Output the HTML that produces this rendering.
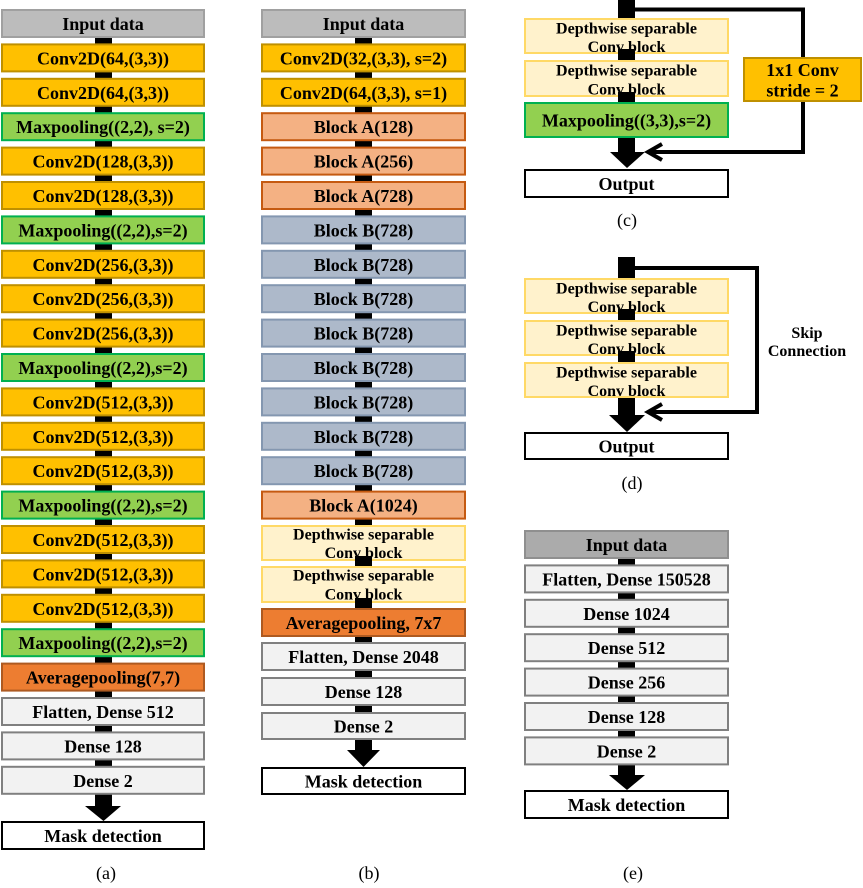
<!DOCTYPE html>
<html>
<head>
<meta charset="utf-8">
<style>
html,body{margin:0;padding:0;background:#fff;}
svg{display:block;}
text{font-family:"Liberation Serif","Times New Roman",serif;fill:#000;}
.b{font-weight:bold;font-size:18px;}
.s{font-weight:bold;font-size:16px;}
.l{font-size:18px;}
</style>
</head>
<body>
<svg width="863" height="888" viewBox="0 0 863 888" xmlns="http://www.w3.org/2000/svg">
<defs>
<style>
.gray{fill:#bcbcbc;stroke:#a0a0a0;stroke-width:2}
.gray2{fill:#ababab;stroke:#8f8f8f;stroke-width:2}
.or{fill:#ffc000;stroke:#bf9000;stroke-width:2}
.gr{fill:#92d050;stroke:#00b050;stroke-width:2}
.ba{fill:#f4b183;stroke:#c55a11;stroke-width:2}
.bb{fill:#adb9ca;stroke:#8497b0;stroke-width:2}
.dw{fill:#fff2cc;stroke:#ffd966;stroke-width:2}
.av{fill:#ed7d31;stroke:#ae5a21;stroke-width:2}
.de{fill:#f2f2f2;stroke:#808080;stroke-width:2}
.ou{fill:#fff;stroke:#000;stroke-width:2}
</style>
</defs>

<!-- connectors -->
<rect x="95" y="9" width="17" height="798" fill="#000"/>
<rect x="355" y="9" width="17" height="742" fill="#000"/>
<rect x="618" y="0" width="17" height="153" fill="#000"/>
<rect x="618" y="257" width="17" height="159" fill="#000"/>
<rect x="618" y="530" width="17" height="246" fill="#000"/>

<!-- arrow heads -->
<polygon points="85,806 121,806 103.5,821" fill="#000"/>
<polygon points="347,750 380,750 363.5,767" fill="#000"/>
<polygon points="610,152 645,152 627,168" fill="#000"/>
<polygon points="609,415 645,415 627,432" fill="#000"/>
<polygon points="609,775 645,775 627,790" fill="#000"/>

<!-- skip lines -->
<polyline points="635,9.5 803,9.5 803,152 648,152" fill="none" stroke="#000" stroke-width="4"/>
<polyline points="662,144 648,152 662,160" fill="none" stroke="#000" stroke-width="4"/>
<polyline points="635,268 757,268 757,412 648,412" fill="none" stroke="#000" stroke-width="4"/>
<polyline points="662,404 648,412 662,420" fill="none" stroke="#000" stroke-width="4"/>

<!-- ===== (a) ===== -->
<g>
<rect class="gray" x="2" y="10" width="202" height="27"/><text class="b" x="103" y="30" text-anchor="middle">Input data</text>
<rect class="or" x="2" y="44.4" width="202" height="27"/><text class="b" x="103" y="64.4" text-anchor="middle">Conv2D(64,(3,3))</text>
<rect class="or" x="2" y="78.8" width="202" height="27"/><text class="b" x="103" y="98.8" text-anchor="middle">Conv2D(64,(3,3))</text>
<rect class="gr" x="2" y="113.2" width="202" height="27"/><text class="b" x="103" y="133.2" text-anchor="middle">Maxpooling((2,2), s=2)</text>
<rect class="or" x="2" y="147.6" width="202" height="27"/><text class="b" x="103" y="167.6" text-anchor="middle">Conv2D(128,(3,3))</text>
<rect class="or" x="2" y="182" width="202" height="27"/><text class="b" x="103" y="202" text-anchor="middle">Conv2D(128,(3,3))</text>
<rect class="gr" x="2" y="216.4" width="202" height="27"/><text class="b" x="103" y="236.4" text-anchor="middle">Maxpooling((2,2),s=2)</text>
<rect class="or" x="2" y="250.8" width="202" height="27"/><text class="b" x="103" y="270.8" text-anchor="middle">Conv2D(256,(3,3))</text>
<rect class="or" x="2" y="285.2" width="202" height="27"/><text class="b" x="103" y="305.2" text-anchor="middle">Conv2D(256,(3,3))</text>
<rect class="or" x="2" y="319.6" width="202" height="27"/><text class="b" x="103" y="339.6" text-anchor="middle">Conv2D(256,(3,3))</text>
<rect class="gr" x="2" y="354" width="202" height="27"/><text class="b" x="103" y="374" text-anchor="middle">Maxpooling((2,2),s=2)</text>
<rect class="or" x="2" y="388.4" width="202" height="27"/><text class="b" x="103" y="408.4" text-anchor="middle">Conv2D(512,(3,3))</text>
<rect class="or" x="2" y="422.8" width="202" height="27"/><text class="b" x="103" y="442.8" text-anchor="middle">Conv2D(512,(3,3))</text>
<rect class="or" x="2" y="457.2" width="202" height="27"/><text class="b" x="103" y="477.2" text-anchor="middle">Conv2D(512,(3,3))</text>
<rect class="gr" x="2" y="491.6" width="202" height="27"/><text class="b" x="103" y="511.6" text-anchor="middle">Maxpooling((2,2),s=2)</text>
<rect class="or" x="2" y="526" width="202" height="27"/><text class="b" x="103" y="546" text-anchor="middle">Conv2D(512,(3,3))</text>
<rect class="or" x="2" y="560.4" width="202" height="27"/><text class="b" x="103" y="580.4" text-anchor="middle">Conv2D(512,(3,3))</text>
<rect class="or" x="2" y="594.8" width="202" height="27"/><text class="b" x="103" y="614.8" text-anchor="middle">Conv2D(512,(3,3))</text>
<rect class="gr" x="2" y="629.2" width="202" height="27"/><text class="b" x="103" y="649.2" text-anchor="middle">Maxpooling((2,2),s=2)</text>
<rect class="av" x="2" y="663.6" width="202" height="27"/><text class="b" x="103" y="683.6" text-anchor="middle">Averagepooling(7,7)</text>
<rect class="de" x="2" y="698" width="202" height="27"/><text class="b" x="103" y="718" text-anchor="middle">Flatten, Dense 512</text>
<rect class="de" x="2" y="732.4" width="202" height="27"/><text class="b" x="103" y="752.4" text-anchor="middle">Dense 128</text>
<rect class="de" x="2" y="766.8" width="202" height="27"/><text class="b" x="103" y="786.8" text-anchor="middle">Dense 2</text>
<rect class="ou" x="2" y="822" width="202" height="27"/><text class="b" x="103" y="842" text-anchor="middle">Mask detection</text>
<text class="l" x="106" y="879" text-anchor="middle">(a)</text>
</g>

<!-- ===== (b) ===== -->
<g>
<rect class="gray" x="262" y="10" width="203" height="27"/><text class="b" x="363.5" y="30" text-anchor="middle">Input data</text>
<rect class="or" x="262" y="44.4" width="203" height="27"/><text class="b" x="363.5" y="64.4" text-anchor="middle">Conv2D(32,(3,3), s=2)</text>
<rect class="or" x="262" y="78.8" width="203" height="27"/><text class="b" x="363.5" y="98.8" text-anchor="middle">Conv2D(64,(3,3), s=1)</text>
<rect class="ba" x="262" y="113.2" width="203" height="27"/><text class="b" x="363.5" y="133.2" text-anchor="middle">Block A(128)</text>
<rect class="ba" x="262" y="147.6" width="203" height="27"/><text class="b" x="363.5" y="167.6" text-anchor="middle">Block A(256)</text>
<rect class="ba" x="262" y="182" width="203" height="27"/><text class="b" x="363.5" y="202" text-anchor="middle">Block A(728)</text>
<rect class="bb" x="262" y="216.4" width="203" height="27"/><text class="b" x="363.5" y="236.4" text-anchor="middle">Block B(728)</text>
<rect class="bb" x="262" y="250.8" width="203" height="27"/><text class="b" x="363.5" y="270.8" text-anchor="middle">Block B(728)</text>
<rect class="bb" x="262" y="285.2" width="203" height="27"/><text class="b" x="363.5" y="305.2" text-anchor="middle">Block B(728)</text>
<rect class="bb" x="262" y="319.6" width="203" height="27"/><text class="b" x="363.5" y="339.6" text-anchor="middle">Block B(728)</text>
<rect class="bb" x="262" y="354" width="203" height="27"/><text class="b" x="363.5" y="374" text-anchor="middle">Block B(728)</text>
<rect class="bb" x="262" y="388.4" width="203" height="27"/><text class="b" x="363.5" y="408.4" text-anchor="middle">Block B(728)</text>
<rect class="bb" x="262" y="422.8" width="203" height="27"/><text class="b" x="363.5" y="442.8" text-anchor="middle">Block B(728)</text>
<rect class="bb" x="262" y="457.2" width="203" height="27"/><text class="b" x="363.5" y="477.2" text-anchor="middle">Block B(728)</text>
<rect class="ba" x="262" y="491.6" width="203" height="27"/><text class="b" x="363.5" y="511.6" text-anchor="middle">Block A(1024)</text>
<rect class="dw" x="262" y="526" width="203" height="34"/>
<rect x="355" y="556" width="17" height="5" fill="#000"/>
<text class="s" x="363.5" y="539.5" text-anchor="middle">Depthwise separable</text>
<text class="s" x="363.5" y="558" text-anchor="middle">Conv block</text>
<rect class="dw" x="262" y="567" width="203" height="35"/>
<rect x="355" y="598" width="17" height="5" fill="#000"/>
<text class="s" x="363.5" y="580.5" text-anchor="middle">Depthwise separable</text>
<text class="s" x="363.5" y="599.5" text-anchor="middle">Conv block</text>
<rect class="av" x="262" y="609" width="203" height="27"/><text class="b" x="363.5" y="629" text-anchor="middle">Averagepooling, 7x7</text>
<rect class="de" x="262" y="643" width="203" height="27"/><text class="b" x="363.5" y="663" text-anchor="middle">Flatten, Dense 2048</text>
<rect class="de" x="262" y="678" width="203" height="27"/><text class="b" x="363.5" y="698" text-anchor="middle">Dense 128</text>
<rect class="de" x="262" y="713" width="203" height="26"/><text class="b" x="363.5" y="732.5" text-anchor="middle">Dense 2</text>
<rect class="ou" x="262" y="768" width="203" height="26"/><text class="b" x="363.5" y="787.5" text-anchor="middle">Mask detection</text>
<text class="l" x="369" y="879" text-anchor="middle">(b)</text>
</g>

<!-- ===== (c) ===== -->
<g>
<rect class="dw" x="525" y="19" width="203" height="34"/>
<rect x="618" y="49" width="17" height="5" fill="#000"/>
<text class="s" x="626.5" y="33.5" text-anchor="middle">Depthwise separable</text>
<text class="s" x="626.5" y="52" text-anchor="middle">Conv block</text>
<rect class="dw" x="525" y="61" width="203" height="35"/>
<rect x="618" y="92" width="17" height="5" fill="#000"/>
<text class="s" x="626.5" y="75.5" text-anchor="middle">Depthwise separable</text>
<text class="s" x="626.5" y="94.5" text-anchor="middle">Conv block</text>
<rect class="gr" x="525" y="103" width="203" height="34"/><text class="b" x="626.5" y="126.5" text-anchor="middle">Maxpooling((3,3),s=2)</text>
<rect class="ou" x="525" y="170" width="203" height="27"/><text class="b" x="626.5" y="190" text-anchor="middle">Output</text>
<rect class="or" x="744" y="58" width="117" height="43"/>
<text class="b" x="802.5" y="76" text-anchor="middle">1x1 Conv</text>
<text class="b" x="802.5" y="96.5" text-anchor="middle">stride = 2</text>
<text class="l" x="627" y="226" text-anchor="middle">(c)</text>
</g>

<!-- ===== (d) ===== -->
<g>
<rect class="dw" x="525" y="279" width="203" height="34"/>
<rect x="618" y="309" width="17" height="5" fill="#000"/>
<text class="s" x="626.5" y="293.5" text-anchor="middle">Depthwise separable</text>
<text class="s" x="626.5" y="312" text-anchor="middle">Conv block</text>
<rect class="dw" x="525" y="321" width="203" height="34"/>
<rect x="618" y="351" width="17" height="5" fill="#000"/>
<text class="s" x="626.5" y="335.5" text-anchor="middle">Depthwise separable</text>
<text class="s" x="626.5" y="354" text-anchor="middle">Conv block</text>
<rect class="dw" x="525" y="363" width="203" height="34"/>
<text class="s" x="626.5" y="377.5" text-anchor="middle">Depthwise separable</text>
<text class="s" x="626.5" y="396" text-anchor="middle">Conv block</text>
<rect class="ou" x="525" y="433" width="203" height="26"/><text class="b" x="626.5" y="452.5" text-anchor="middle">Output</text>
<text class="s" x="807" y="338" text-anchor="middle">Skip</text>
<text class="s" x="807" y="356" text-anchor="middle">Connection</text>
<text class="l" x="632" y="489" text-anchor="middle">(d)</text>
</g>

<!-- ===== (e) ===== -->
<g>
<rect class="gray2" x="525" y="531" width="203" height="27"/><text class="b" x="626.5" y="551" text-anchor="middle">Input data</text>
<rect class="de" x="525" y="565.4" width="203" height="27"/><text class="b" x="626.5" y="585.4" text-anchor="middle">Flatten, Dense 150528</text>
<rect class="de" x="525" y="599.8" width="203" height="27"/><text class="b" x="626.5" y="619.8" text-anchor="middle">Dense 1024</text>
<rect class="de" x="525" y="634.2" width="203" height="27"/><text class="b" x="626.5" y="654.2" text-anchor="middle">Dense 512</text>
<rect class="de" x="525" y="668.6" width="203" height="27"/><text class="b" x="626.5" y="688.6" text-anchor="middle">Dense 256</text>
<rect class="de" x="525" y="703" width="203" height="27"/><text class="b" x="626.5" y="723" text-anchor="middle">Dense 128</text>
<rect class="de" x="525" y="737.4" width="203" height="27"/><text class="b" x="626.5" y="757.4" text-anchor="middle">Dense 2</text>
<rect class="ou" x="525" y="791" width="203" height="27"/><text class="b" x="626.5" y="811" text-anchor="middle">Mask detection</text>
<text class="l" x="633" y="879" text-anchor="middle">(e)</text>
</g>
</svg>
</body>
</html>
